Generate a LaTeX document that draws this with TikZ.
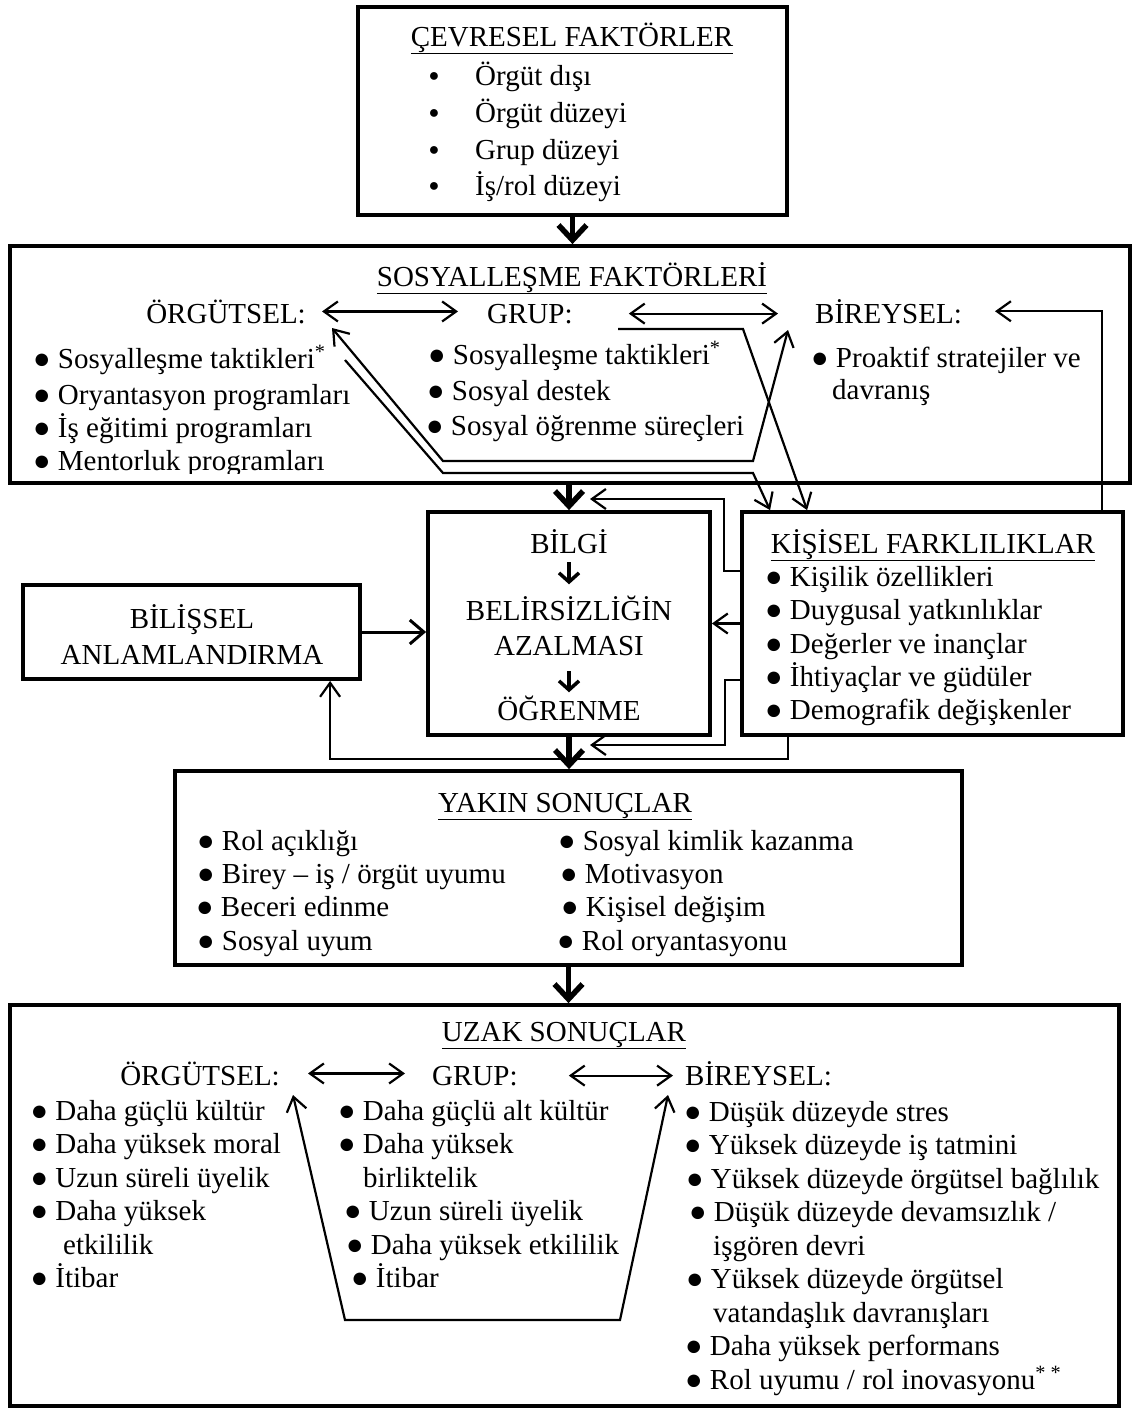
\documentclass[tikz,border=0pt]{standalone}
\usepackage{fontspec}
\setmainfont{Liberation Serif}
\usetikzlibrary{arrows.meta,calc}
\begin{document}
\begin{tikzpicture}[x=1pt,y=-1pt,
  boxn/.style={draw, line width=3.8pt, inner sep=0pt},
  txt/.style={inner sep=0pt, font=\fontsize{29}{34}\selectfont},
  itm/.style={txt, anchor=base west},
  ctr/.style={txt, anchor=base},
  bul/.style={inner sep=0pt, anchor=base, font=\fontsize{18}{20}\selectfont},
  conn/.style={line width=2.2pt},
  connarr/.style={conn, -{Straight Barb[length=14pt,width=20pt]}},
  connboth/.style={conn, {Straight Barb[length=14pt,width=20pt]}-{Straight Barb[length=14pt,width=20pt]}},
  bigarr/.style={line width=5.5pt, -{Straight Barb[length=15pt,width=28pt]}},
  smallarr/.style={line width=3.5pt, -{Straight Barb[length=9pt,width=20pt]}},
  medarr/.style={line width=3pt, -{Straight Barb[length=14pt,width=24pt]}}
]
\fill[white] (0,0) rectangle (1132,1414);
\useasboundingbox (0,0) rectangle (1132,1414);

% ---------- boxes
\node[boxn, minimum width=429, minimum height=208] (b1) at (572.5,111) {};
\node[boxn, minimum width=1120, minimum height=237] (b2) at (570,364.5) {};
\node[boxn, minimum width=282, minimum height=223] (bilgi) at (569,623.5) {};
\node[boxn, minimum width=381, minimum height=223] (kisisel) at (932.5,623.5) {};
\node[boxn, minimum width=337, minimum height=94] (bilissel) at (191.5,632) {};
\node[boxn, minimum width=787, minimum height=194] (yakin) at (568.5,868) {};
\node[boxn, minimum width=1109, minimum height=401] (uzak) at (564.5,1205.5) {};

% ---------- box 1
\node[ctr] (t1) at (572,46) {\underline{ÇEVRESEL FAKTÖRLER}};
\node[bul] (t1b1) at (434,81) {●};  \node[itm] (t1i1) at (475,85) {Örgüt dışı};
\node[bul] (t1b2) at (434,118) {●}; \node[itm] (t1i2) at (475,122) {Örgüt düzeyi};
\node[bul] (t1b3) at (434,155) {●}; \node[itm] (t1i3) at (475,159) {Grup düzeyi};
\node[bul] (t1b4) at (434,191) {●}; \node[itm] (t1i4) at (475,195) {İş/rol düzeyi};

% ---------- box 2
\node[ctr] (t2) at (572,286) {\underline{SOSYALLEŞME FAKTÖRLERİ}};
\node[txt, anchor=base east] (s2org) at (306,323) {ÖRGÜTSEL:};
\node[txt, anchor=base west] (s2grp) at (487,323) {GRUP:};
\node[txt, anchor=base west] (s2bir) at (815,323) {BİREYSEL:};
\node[itm] (s2o1) at (33,368) {● Sosyalleşme taktikleri\textsuperscript{*}};
\node[itm] (s2o2) at (33,404) {● Oryantasyon programları};
\node[itm] (s2o3) at (33,437) {● İş eğitimi programları};
\begin{scope}
\clip (12,440) rectangle (420,473);
\node[itm] (s2o4) at (33,470) {● Mentorluk programları};
\end{scope}
\node[itm] (s2g1) at (428,364) {● Sosyalleşme taktikleri\textsuperscript{*}};
\node[itm] (s2g2) at (427,400) {● Sosyal destek};
\node[itm] (s2g3) at (426,435) {● Sosyal öğrenme süreçleri};
\node[itm] (s2b1) at (811,367) {● Proaktif stratejiler ve};
\node[itm] (s2b2) at (832,399) {davranış};

\draw[connboth] ([xshift=16pt]s2org.east) -- ([xshift=-29pt]s2org.east -| s2grp.west);
\draw[connboth] ([xshift=56pt]s2grp.east) -- ([xshift=-37pt]s2grp.east -| s2bir.west);
\draw[connarr] ($(kisisel.north west)+(362,0)$) |- ([xshift=33pt]s2bir.east);

\coordinate (p1a) at (332,328);
\coordinate (p1b) at (443,461);
\coordinate (p1c) at (753,461);
\coordinate (p1d) at (788,330);
\draw[connboth] (p1a) -- (p1b) -- (p1c) -- (p1d);

\coordinate (p2a) at (345,360);
\coordinate (p2b) at (443,473);
\coordinate (p2c) at (753,473);
\draw[connarr] (p2a) -- (p2b) -- (p2c) -- ($(kisisel.north west)+(30,0)$);

\coordinate (p3a) at (618,329);
\coordinate (p3b) at (743,329);
\draw[connarr] (p3a) -- (p3b) -- ($(kisisel.north west)+(67,0)$);

% ---------- middle row
\node[ctr] (bs1) at (192,628) {BİLİŞSEL};
\node[ctr] (bs2) at (192,664) {ANLAMLANDIRMA};

\node[ctr] (bg1) at (569,553) {BİLGİ};
\node[ctr] (bg2) at (569,620) {BELİRSİZLİĞİN};
\node[ctr] (bg3) at (569,655) {AZALMASI};
\node[ctr] (bg4) at (569,720) {ÖĞRENME};
\draw[smallarr, shorten <=9pt, shorten >=11pt] (bg1.south) -- (bg2.north);
\draw[smallarr, shorten <=16pt, shorten >=3pt] (bg3.south) -- (bg4.north);

\node[ctr] (k0) at (933,553) {\underline{KİŞİSEL FARKLILIKLAR}};
\node[itm] (k1) at (765,586) {● Kişilik özellikleri};
\node[itm] (k2) at (765,619) {● Duygusal yatkınlıklar};
\node[itm] (k3) at (765,653) {● Değerler ve inançlar};
\node[itm] (k4) at (765,686) {● İhtiyaçlar ve güdüler};
\node[itm] (k5) at (765,719) {● Demografik değişkenler};

\draw[bigarr] (b1.south) -- (b1.south |- b2.north);
\draw[bigarr] (bilgi.north |- b2.south) -- (bilgi.north);
\draw[bigarr] (bilgi.south) -- (bilgi.south |- yakin.north);
\draw[bigarr] (yakin.south) -- (yakin.south |- uzak.north);
\draw[medarr] (bilissel.east) -- (bilissel.east -| bilgi.west);
\draw[connarr] (kisisel.west) -- (kisisel.west -| bilgi.east);

\coordinate (fa) at (590,499);
\coordinate (fb) at (590,745);
\draw[connarr] ($(kisisel.north west)+(0,61)$) -- ++(-16,0) |- (fa);
\draw[connarr] ($(kisisel.north west)+(0,170)$) -- ++(-15,0) |- (fb);
\draw[connarr] ($(kisisel.south west)+(48,0)$) -- ++(0,22) -| ($(bilissel.south west)+(309,0)$);

% ---------- yakin sonuclar
\node[ctr] (t4) at (565,812) {\underline{YAKIN SONUÇLAR}};
\node[itm] (y1) at (197,850) {● Rol açıklığı};
\node[itm] (y2) at (197,883) {● Birey – iş / örgüt uyumu};
\node[itm] (y3) at (196,916) {● Beceri edinme};
\node[itm] (y4) at (197,950) {● Sosyal uyum};
\node[itm] (y5) at (558,850) {● Sosyal kimlik kazanma};
\node[itm] (y6) at (560,883) {● Motivasyon};
\node[itm] (y7) at (561,916) {● Kişisel değişim};
\node[itm] (y8) at (557,950) {● Rol oryantasyonu};

% ---------- uzak sonuclar
\node[ctr] (t5) at (564,1041) {\underline{UZAK SONUÇLAR}};
\node[txt, anchor=base east] (u5org) at (280,1085) {ÖRGÜTSEL:};
\node[txt, anchor=base west] (u5grp) at (432,1085) {GRUP:};
\node[txt, anchor=base west] (u5bir) at (685,1085) {BİREYSEL:};
\draw[connboth] ([xshift=28pt]u5org.east) -- ([xshift=-27pt]u5org.east -| u5grp.west);
\draw[connboth] ([xshift=51pt]u5grp.east) -- ([xshift=-12pt]u5grp.east -| u5bir.west);

\coordinate (q1) at (293,1095);
\coordinate (q2) at (345,1320);
\coordinate (q3) at (620,1320);
\coordinate (q4) at (668,1095);
\draw[connboth] (q1) -- (q2) -- (q3) -- (q4);

\node[itm] (u5o1) at (30.5,1120) {● Daha güçlü kültür};
\node[itm] (u5o2) at (30.5,1153.5) {● Daha yüksek moral};
\node[itm] (u5o3) at (30.5,1187) {● Uzun süreli üyelik};
\node[itm] (u5o4) at (30.5,1220.5) {● Daha yüksek};
\node[itm] (u5o5) at (63,1254) {etkililik};
\node[itm] (u5o6) at (30.5,1287.5) {● İtibar};

\node[itm] (u5g1) at (338,1120) {● Daha güçlü alt kültür};
\node[itm] (u5g2) at (338,1153.5) {● Daha yüksek};
\node[itm] (u5g3) at (363,1187) {birliktelik};
\node[itm] (u5g4) at (344,1220.5) {● Uzun süreli üyelik};
\node[itm] (u5g5) at (346,1254) {● Daha yüksek etkililik};
\node[itm] (u5g6) at (351,1287.5) {● İtibar};

\node[itm] (u5b1) at (684,1121) {● Düşük düzeyde stres};
\node[itm] (u5b2) at (684,1154.5) {● Yüksek düzeyde iş tatmini};
\node[itm] (u5b3) at (686,1188) {● Yüksek düzeyde örgütsel bağlılık};
\node[itm] (u5b4) at (689,1221.5) {● Düşük düzeyde devamsızlık /};
\node[itm] (u5b5) at (713,1255) {işgören devri};
\node[itm] (u5b6) at (686,1288.5) {● Yüksek düzeyde örgütsel};
\node[itm] (u5b7) at (713,1322) {vatandaşlık davranışları};
\node[itm] (u5b8) at (685,1355.5) {● Daha yüksek performans};
\node[itm] (u5b9) at (685,1389) {● Rol uyumu / rol inovasyonu\textsuperscript{* *}};
\end{tikzpicture}
\end{document}
